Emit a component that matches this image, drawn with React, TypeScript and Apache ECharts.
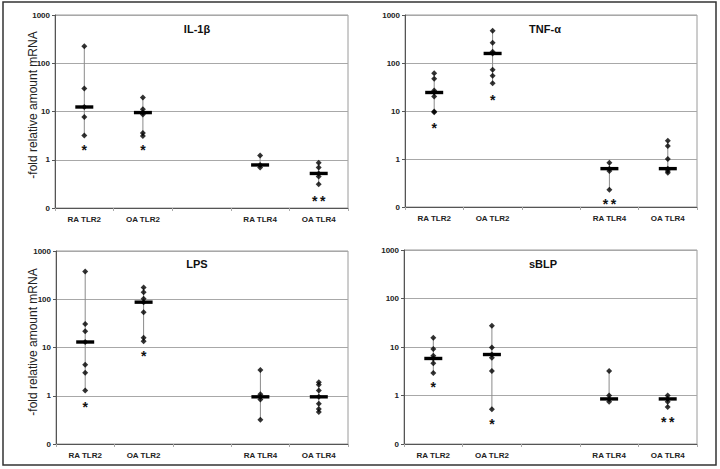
import React, { useEffect, useRef } from "react";
import * as echarts from "echarts";

// ---- Data ----
const categories = ["RA TLR2", "OA TLR2", "", "RA TLR4", "OA TLR4"];
const groupCategoryIndex = [0, 1, 3, 4];
const yTickLabels: Record<string, string> = { "0.1": "0", "1": "1", "10": "10", "100": "100", "1000": "1000" };
const panelTitles = ["IL-1β", "TNF-α", "LPS", "sBLP"];
const yAxisTitle = "-fold relative amount mRNA";

// IL-1β
const il1bPoints = [
  [225, 29.8, 12.4, 7.7, 3.2],
  [19.4, 11.1, 9.5, 8.7, 3.6, 3.1],
  [1.22, 0.78, 0.69],
  [0.87, 0.69, 0.52, 0.45, 0.31],
];
const il1bMedians = [12.4, 9.5, 0.78, 0.52];
const il1bStarText = ["*", "*", "", "**"];
const il1bStarValues = [1.83, 1.83, 0, 0.16];

// TNF-α
const tnfPoints = [
  [61, 47, 26.8, 24.3, 20, 9.8, 9.4],
  [467, 263, 171, 158, 72, 54, 38],
  [0.84, 0.63, 0.56, 0.23],
  [2.4, 1.86, 1.0, 0.63, 0.56, 0.52],
];
const tnfMedians = [24.3, 158, 0.63, 0.63];
const tnfStarText = ["*", "*", "**", ""];
const tnfStarValues = [5.2, 20, 0.135, 0];

// LPS
const lpsPoints = [
  [375, 30.7, 21.6, 13, 4.4, 3.0, 1.29],
  [175, 140, 102, 87, 54, 16, 13.4],
  [3.4, 1.07, 0.95, 0.84, 0.32],
  [1.9, 1.7, 1.29, 0.95, 0.68, 0.53, 0.46],
];
const lpsMedians = [13, 87, 0.95, 0.95];
const lpsStarText = ["*", "*", "", ""];
const lpsStarValues = [0.68, 7.7, 0, 0];

// sBLP
const sblpPoints = [
  [15.5, 9.1, 6.6, 5.8, 4.6, 2.9],
  [27.4, 9.8, 7.0, 6.0, 3.2, 0.52],
  [3.2, 1.0, 0.85, 0.74],
  [1.0, 0.85, 0.74, 0.58],
];
const sblpMedians = [5.8, 7.0, 0.85, 0.85];
const sblpStarText = ["*", "*", "", "**"];
const sblpStarValues = [1.69, 0.3, 0, 0.33];

const panelPoints = [il1bPoints, tnfPoints, lpsPoints, sblpPoints];
const panelMedians = [il1bMedians, tnfMedians, lpsMedians, sblpMedians];
const panelStarText = [il1bStarText, tnfStarText, lpsStarText, sblpStarText];
const panelStarValues = [il1bStarValues, tnfStarValues, lpsStarValues, sblpStarValues];

// ---- Layout ----
const FONT = '"Liberation Sans", Arial, Helvetica, sans-serif';
const grids = [
  { left: 55, top: 15, width: 293, height: 193 },
  { left: 405, top: 15, width: 292, height: 192 },
  { left: 56, top: 251, width: 292, height: 193 },
  { left: 404, top: 250, width: 293, height: 194 },
];
const titlePos = [
  [197, 29],
  [545, 29],
  [197, 264],
  [543, 264],
];
const yTitlePos = [
  [33, 105],
  [33, 342],
];

function buildOption() {
  const grid = grids.map((g) => ({ ...g, show: true, borderColor: "#9a9a9a", borderWidth: 1, backgroundColor: "#fff" }));
  const xAxis = grids.map((_, i) => ({
    type: "category",
    gridIndex: i,
    data: categories,
    boundaryGap: true,
    axisLine: { lineStyle: { color: "#555", width: 1 } },
    axisTick: { show: true, interval: 0, length: 3, lineStyle: { color: "#aaa" } },
    axisLabel: { interval: 0, fontSize: 8, fontWeight: "bold", color: "#222", fontFamily: FONT, margin: 7 },
    splitLine: { show: false },
  }));
  const yAxis = grids.map((_, i) => ({
    type: "log",
    gridIndex: i,
    logBase: 10,
    min: 0.1,
    max: 1000,
    splitNumber: 4,
    axisLine: { show: true, lineStyle: { color: "#555", width: 1 } },
    axisTick: { show: true, length: 3, lineStyle: { color: "#555" } },
    axisLabel: {
      fontSize: 8,
      fontWeight: "bold",
      color: "#222",
      fontFamily: FONT,
      margin: 5,
      formatter: (v: number) => {
        const k = v < 0.5 ? "0.1" : String(Math.round(v));
        return yTickLabels[k] ?? k;
      },
    },
    splitLine: { show: true, lineStyle: { color: "#a8a8a8", width: 1 } },
    minorTick: { show: false },
  }));

  const series: any[] = [];
  panelPoints.forEach((pts, p) => {
    const rangeData = pts.map((arr, g) => [groupCategoryIndex[g], Math.min(...arr), Math.max(...arr)]);
    const medianData = panelMedians[p].map((m, g) => [groupCategoryIndex[g], m]);
    const scatterData: number[][] = [];
    pts.forEach((arr, g) => arr.forEach((v) => scatterData.push([groupCategoryIndex[g], v])));
    const starData: any[] = [];
    const starLabels: string[] = [];
    panelStarText[p].forEach((t, g) => {
      if (t) {
        starData.push([groupCategoryIndex[g], panelStarValues[p][g]]);
        starLabels.push(t);
      }
    });

    series.push({
      type: "custom",
      xAxisIndex: p,
      yAxisIndex: p,
      z: 1,
      encode: { x: 0, y: [1, 2] },
      data: rangeData,
      renderItem: (params: any, api: any) => {
        const x = api.value(0);
        const lo = api.coord([x, api.value(1)]);
        const hi = api.coord([x, api.value(2)]);
        return {
          type: "line",
          shape: { x1: lo[0], y1: lo[1], x2: hi[0], y2: hi[1] },
          style: { stroke: "#8a8a8a", lineWidth: 1 },
        };
      },
    });
    series.push({
      type: "scatter",
      xAxisIndex: p,
      yAxisIndex: p,
      z: 2,
      symbol: "diamond",
      symbolSize: 6,
      itemStyle: { color: "#000" },
      data: scatterData,
    });
    series.push({
      type: "custom",
      xAxisIndex: p,
      yAxisIndex: p,
      z: 3,
      encode: { x: 0, y: 1 },
      data: medianData,
      renderItem: (params: any, api: any) => {
        const c = api.coord([api.value(0), api.value(1)]);
        return {
          type: "rect",
          shape: { x: c[0] - 9, y: c[1] - 1.7, width: 18, height: 3.4 },
          style: { fill: "#000" },
        };
      },
    });
    series.push({
      type: "custom",
      xAxisIndex: p,
      yAxisIndex: p,
      z: 3,
      encode: { x: 0, y: 1 },
      data: starData,
      renderItem: (params: any, api: any) => {
        const c = api.coord([api.value(0), api.value(1)]);
        const label = starLabels[params.dataIndex];
        const n = label.length;
        const gap = 8;
        const children = [];
        for (let k = 0; k < n; k++) {
          children.push({
            type: "text",
            x: c[0] + (k - (n - 1) / 2) * gap,
            y: c[1] + 3,
            style: {
              text: "*",
              fontSize: 14,
              fontWeight: "bold",
              fontFamily: FONT,
              fill: "#111",
              align: "center",
              verticalAlign: "middle",
            },
          });
        }
        return { type: "group", children };
      },
    });
  });

  const graphic: any[] = [
    {
      type: "rect",
      shape: { x: 3, y: 2, width: 713, height: 463 },
      style: { fill: "none", stroke: "#333", lineWidth: 1.5 },
      z: 10,
    },
  ];
  panelTitles.forEach((t, i) => {
    graphic.push({
      type: "text",
      x: titlePos[i][0],
      y: titlePos[i][1],
      style: { text: t, fontSize: 11, fontWeight: "bold", fontFamily: FONT, fill: "#111", align: "center", verticalAlign: "middle" },
      z: 10,
    });
  });
  yTitlePos.forEach((pos) => {
    graphic.push({
      type: "text",
      x: pos[0],
      y: pos[1],
      rotation: Math.PI / 2,
      style: { text: yAxisTitle, fontSize: 12, fontFamily: FONT, fill: "#222", align: "center", verticalAlign: "middle" },
      z: 10,
    });
  });

  return {
    animation: false,
    backgroundColor: "#fff",
    grid,
    xAxis,
    yAxis,
    series,
    graphic,
  };
}

export default function App() {
  const ref = useRef<HTMLDivElement>(null);
  useEffect(() => {
    if (!ref.current) return;
    const chart = echarts.init(ref.current, null, { renderer: "svg" });
    chart.setOption(buildOption() as any);
    return () => chart.dispose();
  }, []);
  return (
    <div
      ref={ref}
      style={{ position: "fixed", left: 0, top: 0, width: 720, height: 469, background: "#fff" }}
    />
  );
}
